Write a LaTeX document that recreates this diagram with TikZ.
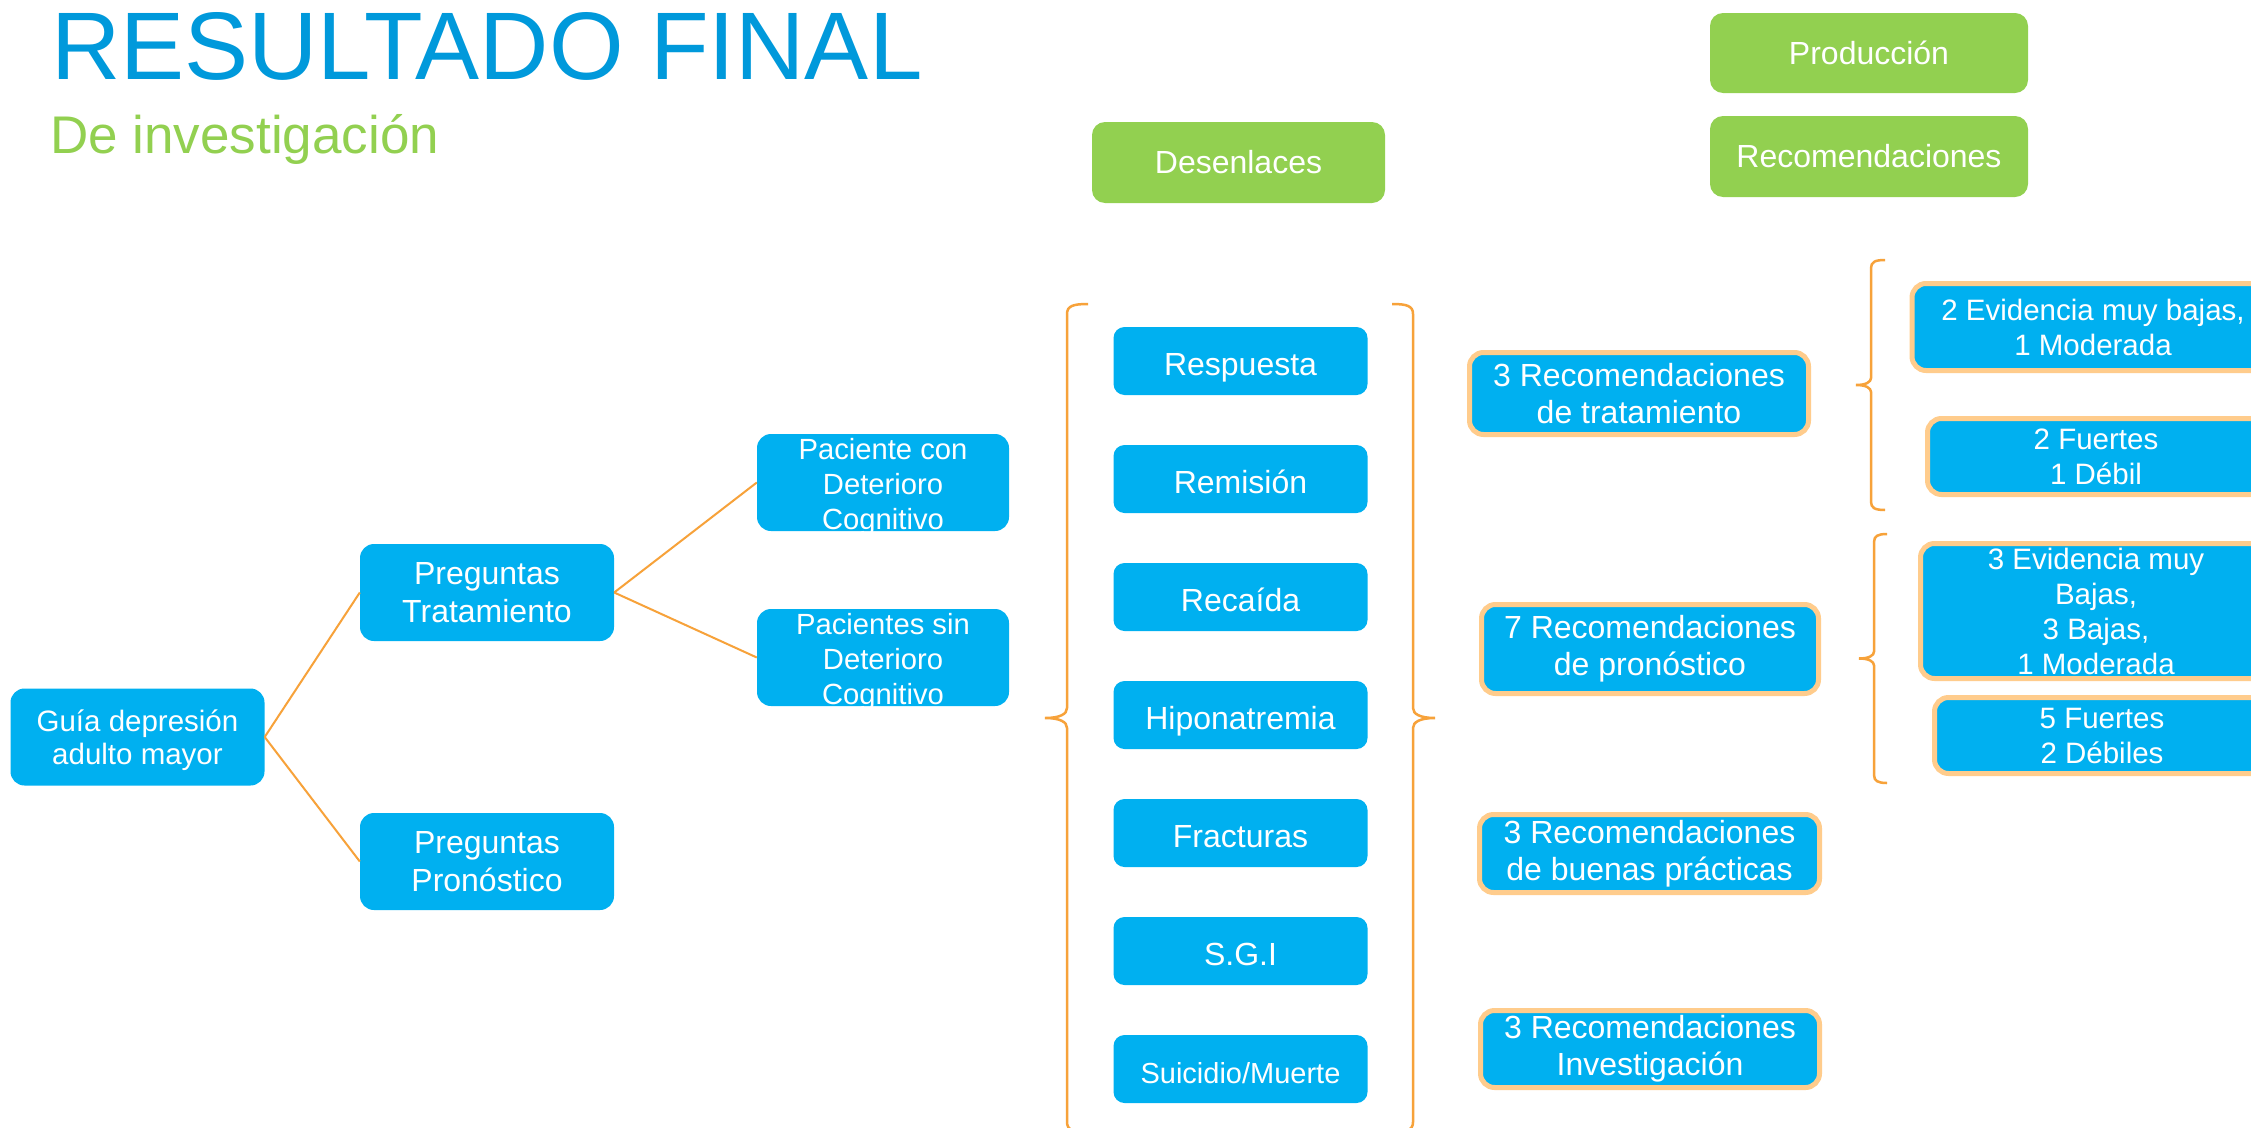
\documentclass[tikz,border=0pt]{standalone}
\usepackage{fontspec}
\setmainfont{Liberation Sans}
\usepackage{tikz}
\usetikzlibrary{positioning}
\definecolor{boxblue}{RGB}{0,176,240}
\definecolor{boxgreen}{RGB}{146,208,80}
\definecolor{titleblue}{RGB}{0,153,219}
\definecolor{lineorange}{RGB}{247,162,58}
\definecolor{edgeorange}{RGB}{255,204,140}

\begin{document}
\begin{tikzpicture}[x=1pt,y=1pt,node distance=118pt,
  blue node/.style={rectangle,rounded corners=14pt,fill=boxblue,text=white,align=center,
    inner sep=0pt,font=\fontsize{32}{38.6}\selectfont},
  green node/.style={blue node,fill=boxgreen,rounded corners=13pt},
  out node/.style={blue node,minimum width=254pt,minimum height=68pt,rounded corners=11pt,
    text height=36pt,text depth=7pt,font=\fontsize{32}{38}\selectfont},
  rec node/.style={blue node,draw=edgeorange,line width=5pt,font=\fontsize{32}{37}\selectfont},
  ev node/.style={rec node,font=\fontsize{29.5}{35}\selectfont},
  link/.style={draw=lineorange,line width=2pt},
  brace line/.style={draw=lineorange,line width=2.5pt}]

  \useasboundingbox (0,0) rectangle (2251,-1127);
  \clip (0,0) rectangle (2251,-1127);
  \fill[white] (0,0) rectangle (2251,-1127);

  % titulo
  \node[anchor=base west,inner sep=0pt,text=titleblue,font=\fontsize{96}{96}\selectfont] (titulo) at (51,-79) {RESULTADO FINAL};
  \node[anchor=base west,inner sep=0pt,text=boxgreen,font=\fontsize{53}{53}\selectfont] (subtitulo) at (50,-153) {De investigación};

  % cabeceras verdes
  \node[green node,minimum width=318pt,minimum height=80pt] (produccion) at (1869,-53) {Producción};
  \node[green node,minimum width=318pt,minimum height=81pt] (recomendaciones) [below of=produccion,node distance=103.5pt] {Recomendaciones};
  \node[green node,minimum width=293pt,minimum height=81pt] (desenlaces) at (1238.5,-162.5) {Desenlaces};

  % arbol de preguntas
  \node[blue node,minimum width=254pt,minimum height=97pt,text height=60pt,text depth=4.4pt,font=\fontsize{29.5}{33}\selectfont] (guia) at (137.5,-737) {Guía depresión\\adulto mayor};
  \node[blue node,minimum width=254pt,minimum height=97pt] (ptrat) at (487,-592.5) {Preguntas\\Tratamiento};
  \node[blue node,minimum width=254pt,minimum height=97pt] (ppron) [below of=ptrat,node distance=269pt] {Preguntas\\Pronóstico};
  \node[blue node,minimum width=252pt,minimum height=97pt,text height=94pt,text depth=0pt,font=\fontsize{29.2}{35}\selectfont] (pcon) at (883,-482.5) {Paciente con\\Deterioro\\Cognitivo};
  \node[blue node,minimum width=252pt,minimum height=97pt,text height=94pt,text depth=0pt,font=\fontsize{29.2}{35}\selectfont] (psin) [below of=pcon,node distance=175pt] {Pacientes sin\\Deterioro\\Cognitivo};

  \path[link] (guia.east) edge (ptrat.west)
                          edge (ppron.west)
              (ptrat.east) edge (pcon.west)
                           edge (psin.west);

  % desenlaces
  \node[out node] (respuesta) at (1240.5,-361) {Respuesta};
  \node[out node] (remision) [below of=respuesta] {Remisión};
  \node[out node] (recaida) [below of=remision] {Recaída};
  \node[out node] (hiponatremia) [below of=recaida] {Hiponatremia};
  \node[out node] (fracturas) [below of=hiponatremia] {Fracturas};
  \node[out node] (sgi) [below of=fracturas] {S.G.I};
  \node[out node,font=\fontsize{29}{35}\selectfont] (suicidio) [below of=sgi] {Suicidio/Muerte};

  % llaves grandes
  \draw[brace line] (1088,-304) .. controls (1073,-304) and (1067,-306) .. (1067,-314)
    -- (1067,-708) .. controls (1067,-714) and (1060,-718) .. (1045,-718)
    .. controls (1060,-718) and (1067,-722) .. (1067,-728)
    -- (1067,-1122) .. controls (1067,-1130) and (1073,-1132) .. (1088,-1132);
  \draw[brace line] (1392,-304) .. controls (1407,-304) and (1413,-306) .. (1413,-314)
    -- (1413,-708) .. controls (1413,-714) and (1420,-718) .. (1435,-718)
    .. controls (1420,-718) and (1413,-722) .. (1413,-728)
    -- (1413,-1122) .. controls (1413,-1130) and (1407,-1132) .. (1392,-1132);

  % recomendaciones
  \node[rec node,minimum width=339pt,minimum height=82pt] (rtrat) at (1639,-393.5) {3 Recomendaciones\\de tratamiento};
  \node[rec node,minimum width=337pt,minimum height=89pt] (rpron) at (1650,-649) {7 Recomendaciones\\de pronóstico};
  \node[rec node,minimum width=340pt,minimum height=78pt] (rbuenas) at (1649.5,-853.5) {3 Recomendaciones\\de buenas prácticas};
  \node[rec node,minimum width=339pt,minimum height=77pt] (rinv) at (1650,-1049) {3 Recomendaciones\\Investigación};

  % llaves chicas
  \draw[brace line] (1885,-260) .. controls (1875,-260) and (1871,-262) .. (1871,-268)
    -- (1871,-378) .. controls (1871,-382) and (1866,-385) .. (1856,-385)
    .. controls (1866,-385) and (1871,-388) .. (1871,-392)
    -- (1871,-502) .. controls (1871,-508) and (1875,-510) .. (1885,-510);
  \draw[brace line] (1887,-534) .. controls (1878,-534) and (1874,-536) .. (1874,-542)
    -- (1874,-651.5) .. controls (1874,-655.5) and (1869,-658.5) .. (1859,-658.5)
    .. controls (1869,-658.5) and (1874,-661.5) .. (1874,-665.5)
    -- (1874,-775) .. controls (1874,-781) and (1878,-783) .. (1887,-783);

  % evidencia y fuerza
  \node[ev node,minimum width=362pt,minimum height=87pt] (evtrat) at (2093,-327) {2 Evidencia muy bajas,\\1 Moderada};
  \node[ev node,minimum width=337pt,minimum height=76pt] (futrat) at (2096,-456.5) {2 Fuertes\\1 Débil};
  \node[ev node,minimum width=351pt,minimum height=135pt] (evpron) at (2096,-611) {3 Evidencia muy\\Bajas,\\3 Bajas,\\1 Moderada};
  \node[ev node,minimum width=335pt,minimum height=76pt] (fupron) at (2102,-735.5) {5 Fuertes\\2 Débiles};

\end{tikzpicture}
\end{document}
